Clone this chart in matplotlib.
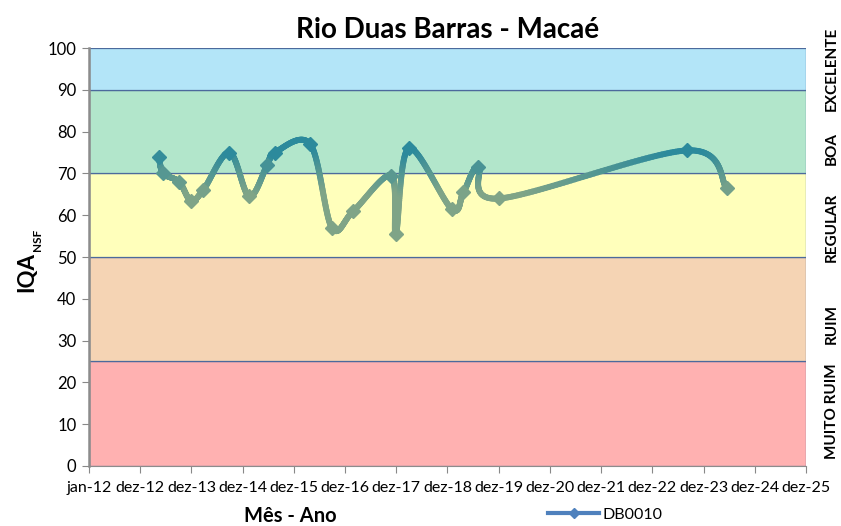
import matplotlib.pyplot as plt
import numpy as np
import pandas as pd
from matplotlib.collections import LineCollection
from matplotlib.lines import Line2D
from matplotlib.colors import to_rgb

plt.rcParams['font.family'] = ['Lato', 'DejaVu Sans']

# data
sample_dates = ["2013-05-14", "2013-06-13", "2013-10-04", "2013-12-27", "2014-03-25",
                "2014-09-27", "2015-02-16", "2015-06-24", "2015-08-18", "2016-04-26",
                "2016-09-27", "2017-02-27", "2017-11-24", "2017-12-27", "2018-03-29",
                "2019-01-29", "2019-04-23", "2019-08-07", "2020-01-04", "2023-09-02",
                "2024-06-10"]
iqa_values = [74, 70, 68, 63.5, 66, 75, 64.5, 72, 75, 77, 57, 61, 69.5, 55.5, 76,
              61.5, 65.5, 71.5, 64, 75.5, 66.5]
tick_labels = ["jan-12", "dez-12", "dez-13", "dez-14", "dez-15", "dez-16", "dez-17",
               "dez-18", "dez-19", "dez-20", "dez-21", "dez-22", "dez-23", "dez-24", "dez-25"]
band_limits = [0, 25, 50, 70, 90, 100]
band_colors = ["#FFB1B1", "#F5D4B4", "#FFFFBB", "#B2E6CB", "#B3E5F8"]
band_names = ["MUITO RUIM", "RUIM", "REGULAR", "BOA", "EXCELENTE"]
band_label_y = [13, 34, 57, 76, 95]

start = pd.Timestamp("2012-01-01")
x = np.array([(pd.Timestamp(d) - start).days for d in sample_dates], dtype=float)
y = np.array(iqa_values, dtype=float)


def excel_smooth(px, py, n=60):
    pts = np.column_stack([px, py])
    out = []
    for i in range(len(pts) - 1):
        p0 = pts[max(i - 1, 0)]
        p1 = pts[i]
        p2 = pts[i + 1]
        p3 = pts[min(i + 2, len(pts) - 1)]
        c1 = p1 + (p2 - p0) / 6
        c2 = p2 - (p3 - p1) / 6
        t = np.linspace(0, 1, n)[:, None]
        seg = ((1 - t) ** 3) * p1 + 3 * ((1 - t) ** 2) * t * c1 + 3 * (1 - t) * t ** 2 * c2 + t ** 3 * p2
        out.append(seg if i == 0 else seg[1:])
    return np.vstack(out)


teal = np.array(to_rgb("#2C8A9C"))
sage = np.array(to_rgb("#7FA487"))


def grad_color(v):
    f = np.clip((v - 65) / 10, 0, 1)
    return sage + (teal - sage) * f


fig, ax = plt.subplots(figsize=(8.41, 5.26), dpi=100)
fig.subplots_adjust(left=0.1058, right=0.9584, bottom=0.1141, top=0.9087)

xmax = 365 * 14
for lo, hi, c in zip(band_limits[:-1], band_limits[1:], band_colors):
    ax.axhspan(lo, hi, facecolor=c, edgecolor="#4C6A9C", linewidth=0.9, zorder=1)

curve = excel_smooth(x, y)
segs = np.stack([curve[:-1], curve[1:]], axis=1)
mid_y = (curve[:-1, 1] + curve[1:, 1]) / 2
lc = LineCollection(segs, colors=[grad_color(v) for v in mid_y], linewidths=4.3,
                    capstyle="round", joinstyle="round", zorder=3)
ax.add_collection(lc)
for xi, yi in zip(x, y):
    ax.plot(xi, yi, marker="D", markersize=7.5, color=grad_color(yi), zorder=4)

ax.set_xlim(0, xmax)
ax.set_ylim(0, 100)
ax.set_xticks([365 * k for k in range(len(tick_labels))])
ax.set_xticklabels(tick_labels, fontsize=11.5)
ax.set_yticks(range(0, 101, 10))
ax.tick_params(axis="y", labelsize=12, length=5, color="#888888", pad=4)
ax.tick_params(axis="x", length=5, color="#888888", pad=6)
for s in ["top", "right"]:
    ax.spines[s].set_visible(False)
ax.spines["left"].set_color("#8C8C8C")
ax.spines["left"].set_linewidth(1.8)
ax.spines["bottom"].set_color("#8C8C8C")

ax.set_title("Rio Duas Barras - Macaé", fontsize=20, fontweight="bold", pad=7)
fig.text(290 / 841, 1 - 516 / 526, "Mês - Ano", fontsize=14.5, fontweight="bold",
         ha="center", va="center")
fig.text(27 / 841, 1 - 272 / 526, "IQA", rotation=90, fontsize=16, fontweight="bold",
         ha="center", va="center")
fig.text(37 / 841, 1 - 240 / 526, "NSF", rotation=90, fontsize=8.5, fontweight="bold",
         ha="center", va="center")

for name, yl in zip(band_names, band_label_y):
    ax.text(1.036, yl / 100, name, transform=ax.transAxes, rotation=90, fontsize=11,
            fontweight="bold", ha="center", va="center")

handle = Line2D([], [], color="#4F81BD", linewidth=3, marker="D", markersize=5)
fig.legend([handle], ["DB0010"], loc="center", bbox_to_anchor=(0.72, 0.022),
           frameon=False, fontsize=11.5, handlelength=3.2, handletextpad=0.2)

fig.savefig("out.png", dpi=100)
